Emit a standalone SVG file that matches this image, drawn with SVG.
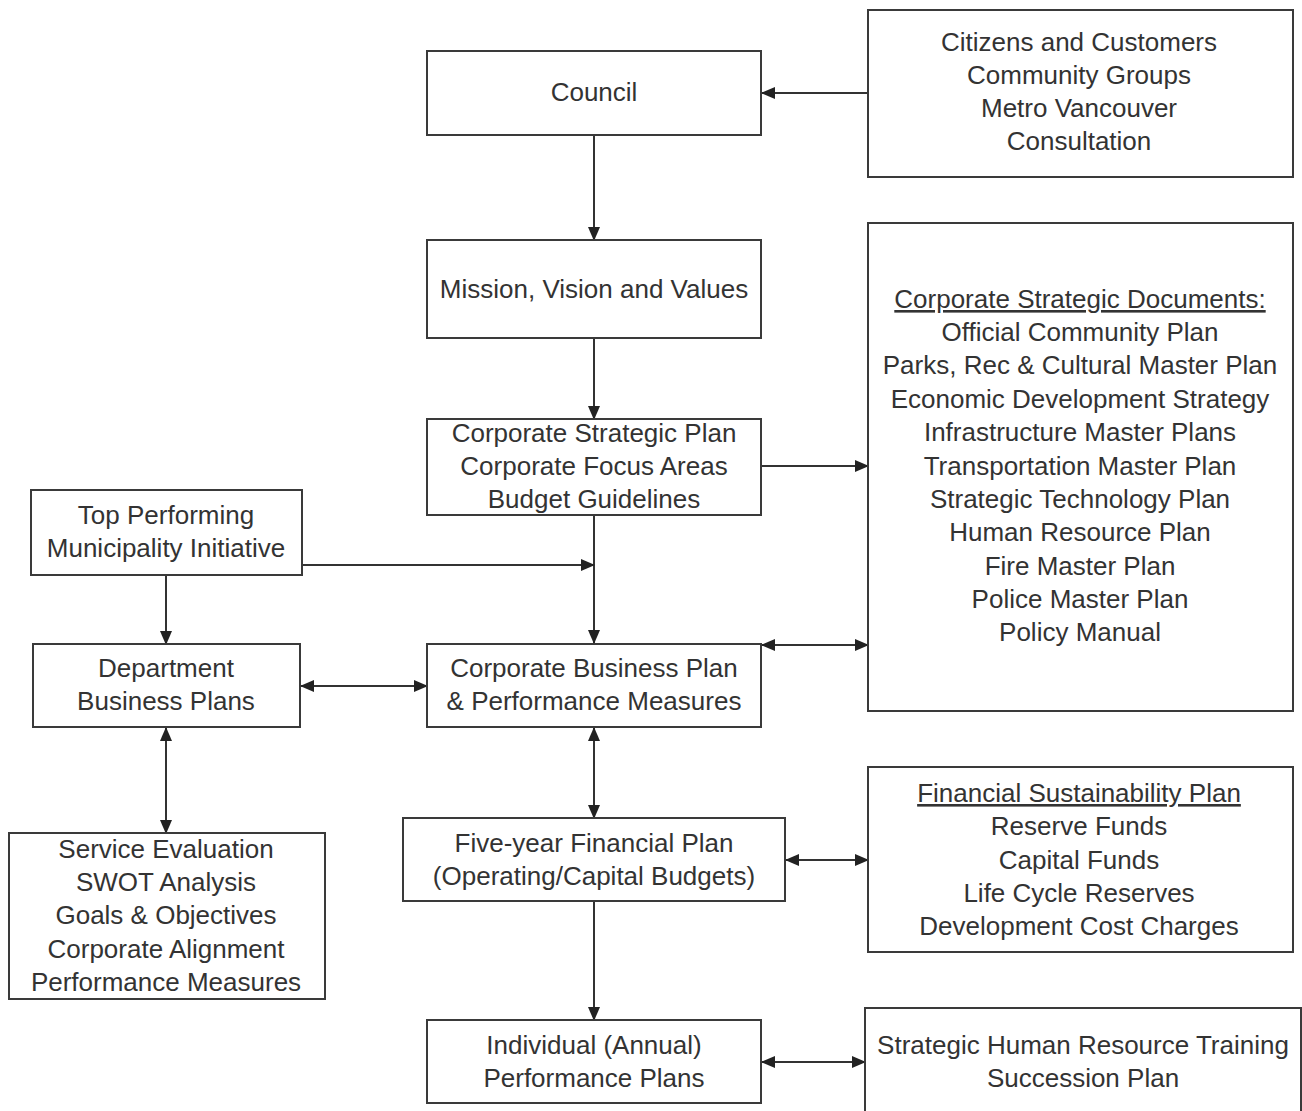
<svg xmlns="http://www.w3.org/2000/svg" width="1302" height="1111" viewBox="0 0 1302 1111">
<style>
.box{fill:#fff;stroke:#3a3a3a;stroke-width:2}
.t{font-family:"Liberation Sans",Arial,sans-serif;font-size:26px;fill:#333;text-anchor:middle}
.u{text-decoration:underline}
.c{fill:none;stroke:#333;stroke-width:2}
</style>
<defs>
<marker id="ah" markerWidth="14" markerHeight="12" refX="13" refY="6" orient="auto-start-reverse" markerUnits="userSpaceOnUse">
<path d="M0,0 L14,6 L0,12 Z" fill="#222"/>
</marker>
</defs>
<rect width="1302" height="1111" fill="#fff"/>
<g id="connectors">
<line class="c" x1="868" y1="93" x2="762" y2="93" marker-end="url(#ah)"/>
<line class="c" x1="594" y1="135" x2="594" y2="240" marker-end="url(#ah)"/>
<line class="c" x1="594" y1="338" x2="594" y2="419" marker-end="url(#ah)"/>
<line class="c" x1="761" y1="466" x2="868" y2="466" marker-end="url(#ah)"/>
<line class="c" x1="594" y1="515" x2="594" y2="643" marker-end="url(#ah)"/>
<line class="c" x1="302" y1="565" x2="594" y2="565" marker-end="url(#ah)"/>
<line class="c" x1="166" y1="575" x2="166" y2="644" marker-end="url(#ah)"/>
<line class="c" x1="301" y1="686" x2="427" y2="686" marker-start="url(#ah)" marker-end="url(#ah)"/>
<line class="c" x1="762" y1="645" x2="868" y2="645" marker-start="url(#ah)" marker-end="url(#ah)"/>
<line class="c" x1="166" y1="728" x2="166" y2="833" marker-start="url(#ah)" marker-end="url(#ah)"/>
<line class="c" x1="594" y1="728" x2="594" y2="818" marker-start="url(#ah)" marker-end="url(#ah)"/>
<line class="c" x1="786" y1="860" x2="868" y2="860" marker-start="url(#ah)" marker-end="url(#ah)"/>
<line class="c" x1="594" y1="901" x2="594" y2="1020" marker-end="url(#ah)"/>
<line class="c" x1="762" y1="1062" x2="865" y2="1062" marker-start="url(#ah)" marker-end="url(#ah)"/>
</g>
<g id="council">
<rect class="box" x="427" y="51" width="334" height="84"/>
<text class="t" x="594" y="101">Council</text>
</g>
<g id="citizens">
<rect class="box" x="868" y="10" width="425" height="167"/>
<text class="t" x="1079" y="51">Citizens and Customers</text>
<text class="t" x="1079" y="84">Community Groups</text>
<text class="t" x="1079" y="117">Metro Vancouver</text>
<text class="t" x="1079" y="150">Consultation</text>
</g>
<g id="mission">
<rect class="box" x="427" y="240" width="334" height="98"/>
<text class="t" x="594" y="298">Mission, Vision and Values</text>
</g>
<g id="csp">
<rect class="box" x="427" y="419" width="334" height="96"/>
<text class="t" x="594" y="442">Corporate Strategic Plan</text>
<text class="t" x="594" y="475">Corporate Focus Areas</text>
<text class="t" x="594" y="508">Budget Guidelines</text>
</g>
<g id="csd">
<rect class="box" x="868" y="223" width="425" height="488"/>
<text class="t u" x="1080" y="308">Corporate Strategic Documents:</text>
<text class="t" x="1080" y="341">Official Community Plan</text>
<text class="t" x="1080" y="374">Parks, Rec &amp; Cultural Master Plan</text>
<text class="t" x="1080" y="408">Economic Development Strategy</text>
<text class="t" x="1080" y="441">Infrastructure Master Plans</text>
<text class="t" x="1080" y="475">Transportation Master Plan</text>
<text class="t" x="1080" y="508">Strategic Technology Plan</text>
<text class="t" x="1080" y="541">Human Resource Plan</text>
<text class="t" x="1080" y="575">Fire Master Plan</text>
<text class="t" x="1080" y="608">Police Master Plan</text>
<text class="t" x="1080" y="641">Policy Manual</text>
</g>
<g id="tpm">
<rect class="box" x="31" y="490" width="271" height="85"/>
<text class="t" x="166" y="524">Top Performing</text>
<text class="t" x="166" y="557">Municipality Initiative</text>
</g>
<g id="dept">
<rect class="box" x="33" y="644" width="267" height="83"/>
<text class="t" x="166" y="677">Department</text>
<text class="t" x="166" y="710">Business Plans</text>
</g>
<g id="cbp">
<rect class="box" x="427" y="644" width="334" height="83"/>
<text class="t" x="594" y="677">Corporate Business Plan</text>
<text class="t" x="594" y="710">&amp; Performance Measures</text>
</g>
<g id="service">
<rect class="box" x="9" y="833" width="316" height="166"/>
<text class="t" x="166" y="858">Service Evaluation</text>
<text class="t" x="166" y="891">SWOT Analysis</text>
<text class="t" x="166" y="924">Goals &amp; Objectives</text>
<text class="t" x="166" y="958">Corporate Alignment</text>
<text class="t" x="166" y="991">Performance Measures</text>
</g>
<g id="fyfp">
<rect class="box" x="403" y="818" width="382" height="83"/>
<text class="t" x="594" y="852">Five-year Financial Plan</text>
<text class="t" x="594" y="885">(Operating/Capital Budgets)</text>
</g>
<g id="fsp">
<rect class="box" x="868" y="767" width="425" height="185"/>
<text class="t u" x="1079" y="802">Financial Sustainability Plan</text>
<text class="t" x="1079" y="835">Reserve Funds</text>
<text class="t" x="1079" y="869">Capital Funds</text>
<text class="t" x="1079" y="902">Life Cycle Reserves</text>
<text class="t" x="1079" y="935">Development Cost Charges</text>
</g>
<g id="individual">
<rect class="box" x="427" y="1020" width="334" height="83"/>
<text class="t" x="594" y="1054">Individual (Annual)</text>
<text class="t" x="594" y="1087">Performance Plans</text>
</g>
<g id="shrt">
<rect class="box" x="865" y="1008" width="436" height="120"/>
<text class="t" x="1083" y="1054">Strategic Human Resource Training</text>
<text class="t" x="1083" y="1087">Succession Plan</text>
</g>
</svg>
